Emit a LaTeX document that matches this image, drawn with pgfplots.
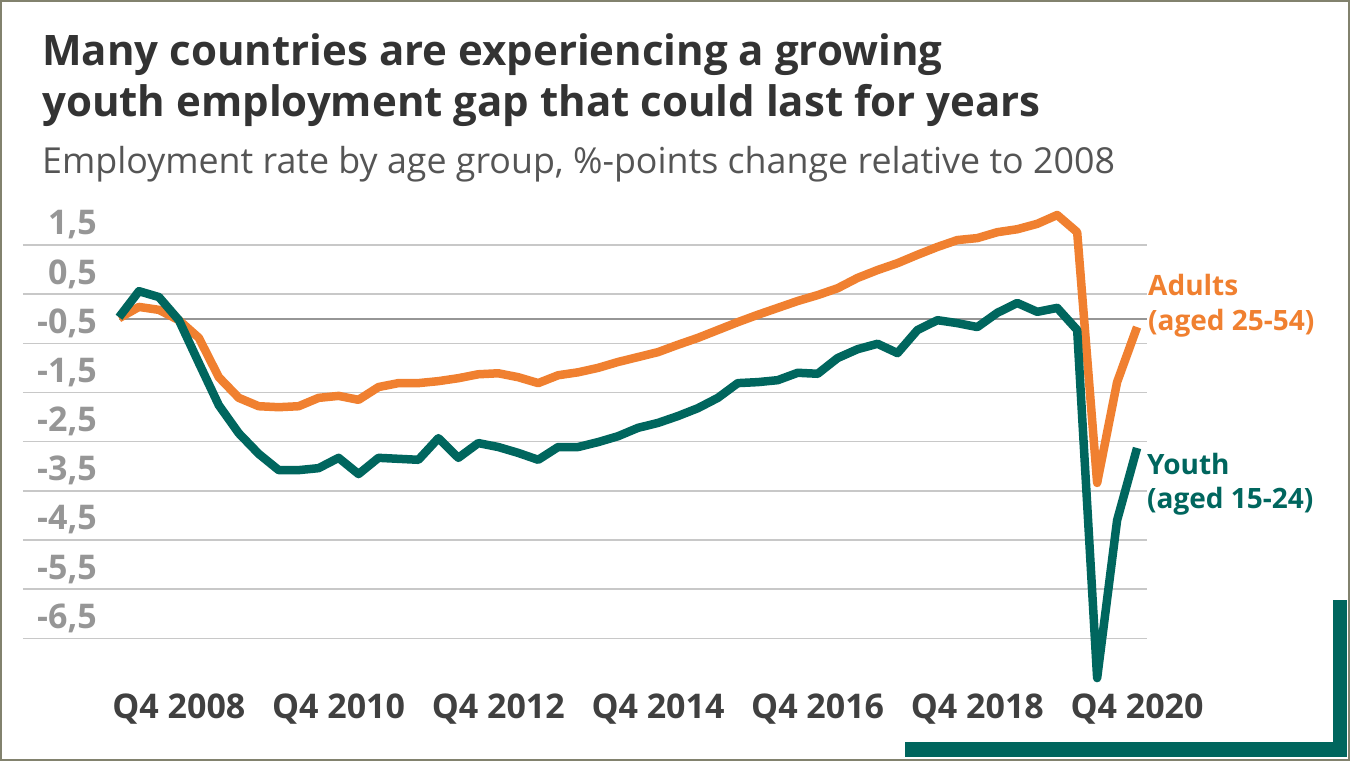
\documentclass[border=0pt]{standalone}
\usepackage{pgfplots}
\pgfplotsset{compat=1.18}
\usepackage{fontspec}
\setmainfont{Open Sans}

\definecolor{youthcol}{RGB}{0,102,94}
\definecolor{adultcol}{RGB}{240,128,48}
\definecolor{gridcol}{RGB}{200,200,200}
\definecolor{zerocol}{RGB}{150,150,150}
\definecolor{framecol}{RGB}{130,130,110}
\definecolor{titlecol}{RGB}{51,51,51}
\definecolor{subcol}{RGB}{85,85,85}
\definecolor{ylabcol}{RGB}{150,150,150}
\definecolor{xlabcol}{RGB}{64,64,64}

% quarter index (0 = Q1 2008) and %-point change relative to 2008
\pgfplotstableread{
q   adults  youth
0    0.01   0.03
1    0.24   0.56
2    0.18   0.44
3   -0.03  -0.03
4   -0.39  -0.90
5   -1.19  -1.76
6   -1.61  -2.33
7   -1.78  -2.75
8   -1.80  -3.08
9   -1.78  -3.08
10  -1.61  -3.04
11  -1.57  -2.83
12  -1.65  -3.16
13  -1.39  -2.83
14  -1.31  -2.85
15  -1.31  -2.87
16  -1.27  -2.43
17  -1.21  -2.83
18  -1.13  -2.53
19  -1.11  -2.61
20  -1.19  -2.73
21  -1.31  -2.87
22  -1.15  -2.61
23  -1.09  -2.61
24  -1.00  -2.51
25  -0.88  -2.39
26  -0.78  -2.22
27  -0.68  -2.12
28  -0.53  -1.98
29  -0.39  -1.82
30  -0.23  -1.61
31  -0.07  -1.31
32   0.08  -1.29
33   0.22  -1.25
34   0.36  -1.10
35   0.48  -1.12
36   0.62  -0.80
37   0.83  -0.62
38   0.99  -0.51
39   1.13  -0.70
40   1.30  -0.23
41   1.46  -0.03
42   1.60  -0.09
43   1.64  -0.17
44   1.76   0.12
45   1.82   0.32
46   1.93   0.14
47   2.11   0.22
48   1.76  -0.23
49  -3.34  -7.31
50  -1.29  -4.10
51  -0.17  -2.63
}\datatable

\begin{document}
\begin{tikzpicture}
% background and frame
\fill[white] (0pt,0pt) rectangle (1350pt,-761pt);
\draw[framecol, line width=2pt] (1pt,-1pt) rectangle (1349pt,-760pt);
% corner bracket
\fill[youthcol] (905pt,-742pt) rectangle (1347pt,-757pt);
\fill[youthcol] (1333pt,-600pt) rectangle (1347pt,-757pt);

% titles
\node[anchor=base west, inner sep=0pt, text=titlecol, font=\fontsize{42}{50}\selectfont\bfseries]
  at (42pt,-65pt) {Many countries are experiencing a growing};
\node[anchor=base west, inner sep=0pt, text=titlecol, font=\fontsize{42}{50}\selectfont\bfseries]
  at (42pt,-116pt) {youth employment gap that could last for years};
\node[anchor=base west, inner sep=0pt, text=subcol, font=\fontsize{35.8}{42}\selectfont]
  at (42pt,-173pt) {Employment rate by age group, \%-points change relative to 2008};

\begin{axis}[
  at={(23pt,-687.4pt)}, anchor=south west,
  scale only axis, width=1124pt, height=481.77pt,
  xmin=-4.81, xmax=51.5, ymin=-7.5, ymax=2.3,
  clip=false,
  axis line style={draw=none},
  major tick length=0pt,
  ytick={-6.5,-5.5,-4.5,-3.5,-2.5,-1.5,-0.5,0.5,1.5},
  yticklabels={{-6,5},{-5,5},{-4,5},{-3,5},{-2,5},{-1,5},{-0,5},{0,5},{1,5}},
  ymajorgrids,
  grid style={line width=1.5pt, gridcol},
  xtick={3,11,19,27,35,43,51},
  xticklabels={Q4 2008,Q4 2010,Q4 2012,Q4 2014,Q4 2016,Q4 2018,Q4 2020},
  yticklabel style={anchor=base east, inner sep=0pt, xshift=74pt, yshift=10pt,
    text=ylabcol, font=\fontsize{34}{40}\selectfont\bfseries},
  xticklabel style={anchor=base, inner sep=0pt, yshift=-30.6pt,
    text=xlabcol, font=\fontsize{34}{40}\selectfont\bfseries},
]
\draw[zerocol, line width=2pt] (axis cs:0,0) -- (axis cs:51.5,0);
\addplot[adultcol, line width=8.5pt, line join=round] table[x=q, y=adults] {\datatable};
\addplot[youthcol, line width=8.5pt, line join=round] table[x=q, y=youth] {\datatable};
\end{axis}

% series labels
\node[anchor=base west, inner sep=0pt, text=adultcol, font=\fontsize{28}{34}\selectfont\bfseries]
  at (1148pt,-295pt) {Adults};
\node[anchor=base west, inner sep=0pt, text=adultcol, font=\fontsize{28}{34}\selectfont\bfseries]
  at (1148pt,-330pt) {(aged 25-54)};
\node[anchor=base west, inner sep=0pt, text=youthcol, font=\fontsize{28}{34}\selectfont\bfseries]
  at (1147pt,-474pt) {Youth};
\node[anchor=base west, inner sep=0pt, text=youthcol, font=\fontsize{28}{34}\selectfont\bfseries]
  at (1147pt,-508pt) {(aged 15-24)};
\end{tikzpicture}
\end{document}
